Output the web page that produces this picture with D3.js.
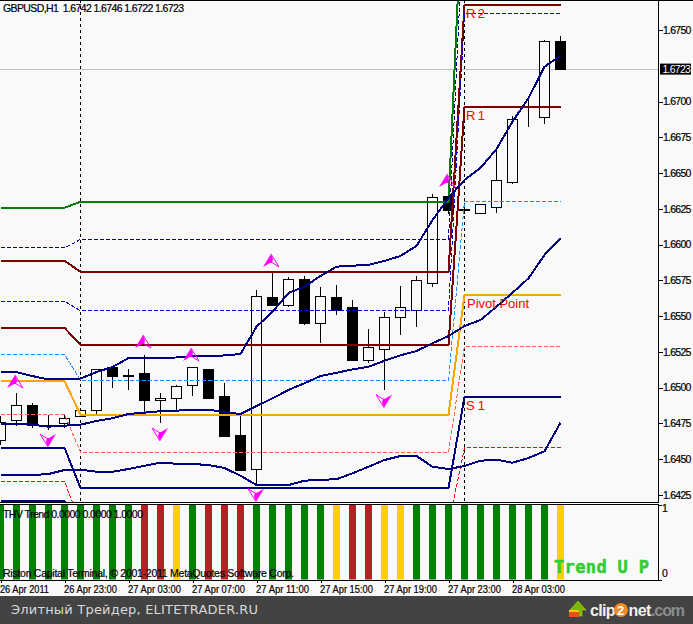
<!DOCTYPE html>
<html><head><meta charset="utf-8">
<script src="https://cdnjs.cloudflare.com/ajax/libs/d3/7.8.5/d3.min.js"></script>
<style>html,body{margin:0;padding:0;background:#f9f9f9}svg{display:block}</style>
</head><body><svg id="c" xmlns="http://www.w3.org/2000/svg" width="693" height="624"></svg>
<script>
const title="GBPUSD,H1  1.6742 1.6746 1.6722 1.6723";
const subTitle="THV Trend 0.0000 0.0000 1.0000";
const copyright="Riston Capital Terminal, © 2001-2011 MetaQuotes Software Corp.";
const opens =[1.6463,1.6477,1.6488,1.6473,1.6475,1.6480,1.6484,1.6514,1.6508,1.6510,1.6491,1.6493,1.6502,1.6513,1.6494,1.6467,1.6443,1.6563,1.6558,1.6576,1.6545,1.6563,1.6556,1.6519,1.6527,1.6549,1.6554,1.6573,1.6634,1.6625,1.6622,1.6626,1.6644,1.6688,1.6689,1.6742];
const highs =[1.6480,1.6496,1.6489,1.6481,1.6481,1.6484,1.6513,1.6514,1.6513,1.6523,1.6496,1.6502,1.6514,1.6513,1.6503,1.6480,1.6568,1.6581,1.6577,1.6578,1.6570,1.6572,1.6561,1.6541,1.6553,1.6571,1.6578,1.6635,1.6636,1.6629,1.6628,1.6668,1.6690,1.6701,1.6743,1.6746];
const lows  =[1.6460,1.6473,1.6472,1.6470,1.6472,1.6480,1.6480,1.6500,1.6498,1.6482,1.6475,1.6484,1.6494,1.6493,1.6466,1.6442,1.6432,1.6558,1.6556,1.6544,1.6531,1.6551,1.6519,1.6517,1.6498,1.6537,1.6542,1.6570,1.6621,1.6621,1.6621,1.6622,1.6642,1.6682,1.6684,1.6722];
const closes=[1.6476,1.6488,1.6474,1.6474,1.6479,1.6484,1.6513,1.6508,1.6509,1.6491,1.6493,1.6501,1.6514,1.6493,1.6466,1.6442,1.6564,1.6558,1.6576,1.6545,1.6564,1.6554,1.6519,1.6528,1.6549,1.6556,1.6575,1.6633,1.6624,1.6624,1.6628,1.6645,1.6688,1.6688,1.6742,1.6723];
const bandUpper=[1.65108,1.65108,1.6508,1.65056,1.65056,1.65063,1.65108,1.65143,1.65206,1.65206,1.65206,1.6521,1.6522,1.6522,1.65224,1.65234,1.65425,1.6553,1.65661,1.65705,1.6578,1.65845,1.65852,1.65857,1.65885,1.6592,1.6599,1.66171,1.66325,1.66451,1.66535,1.66668,1.66859,1.67024,1.67243,1.6732];
const bandMiddle=[1.64747,1.64747,1.6474,1.64726,1.64733,1.6474,1.64766,1.64785,1.64815,1.64824,1.64834,1.64838,1.64845,1.64845,1.64827,1.64815,1.64871,1.64924,1.64983,1.6503,1.6508,1.65103,1.65127,1.65145,1.65187,1.65225,1.65255,1.65309,1.6536,1.6543,1.65472,1.65565,1.65663,1.65764,1.65927,1.66043];
const bandLower=[1.64388,1.64388,1.64388,1.64395,1.64423,1.64425,1.64411,1.64411,1.6443,1.64453,1.64474,1.64467,1.64465,1.64458,1.64437,1.64383,1.64318,1.64318,1.64318,1.64348,1.64355,1.64358,1.644,1.64446,1.64493,1.64521,1.64521,1.64446,1.6443,1.64451,1.64488,1.64495,1.64474,1.64507,1.64554,1.64754];
// pivot levels for the three trading days: [day 1, day 2, day 3]
const pivotBars=[[0,4],[5,28],[29,35]];
const levelR3=[1.66257,1.66299,1.68759];
const levelMidR3=[1.65976,1.66036,1.6841];
const levelR2=[1.65887,1.65808,1.67675];
const levelMidR2=[1.65603,1.65537,1.67617];
const levelR1=[1.65418,1.65297,1.66964];
const levelMidR1=[1.65232,1.6505,1.66304];
const levelPivot=[1.65045,1.6481,1.65647];
const levelMidS1=[1.64813,1.64547,1.6529];
const levelS1=[1.64579,1.64297,1.64934];
const levelMidS2=[1.64344,1.64045,1.64577];
const levelS2=[1.64206,1.63794,1.6405];
const upArrowBars=[1,9,12,17,28];
const upArrowPrices=[1.65087,1.65367,1.65276,1.65934,1.66493];
const downArrowBars=[3,10,24,16];
const downArrowPrices=[1.64584,1.64626,1.64859,1.64201];
const trendStates=["g","g","g","g","g","g","g","g","g","r","r","y","g","r","r","r","g","g","g","g","g","y","r","r","y","y","g","g","g","g","g","g","g","g","g","y"];
const priceTicks=[1.675,1.67,1.6675,1.665,1.6625,1.66,1.6575,1.655,1.6525,1.65,1.6475,1.645,1.6425];
const lastPrice=1.6723;
const timeTickBars=[0,4,8,12,16,20,24,28,32];
const timeLabels=["26 Apr 2011","26 Apr 23:00","27 Apr 03:00","27 Apr 07:00","27 Apr 11:00","27 Apr 15:00","27 Apr 19:00","27 Apr 23:00","28 Apr 03:00"];
const daySeparators=[5,29];
const trendColors={g:"#008000",r:"#b22222",y:"#ffd000"};

const svg=d3.select("#c");
const UI="'Liberation Sans',Arial,sans-serif";
const W=658,plotB=502,subT=505,subB=579.5;
const x=d3.scaleLinear().domain([0,35]).range([0.5,560.5]);
const y=d3.scaleLinear().domain([1.6425,1.675]).range([494.75,30]);
const ySub=d3.scaleLinear().domain([0,1]).range([subB,subT]);

svg.append("rect").attr("width",693).attr("height",624).attr("fill","#f9f9f9");
const defs=svg.append("defs");
defs.append("clipPath").attr("id","main").append("rect").attr("x",0).attr("y",1).attr("width",W).attr("height",plotB-1);

const plot=svg.append("g").attr("clip-path","url(#main)");
plot.append("line").attr("x1",0).attr("x2",W).attr("y1",Math.round(y(lastPrice))+0.5).attr("y2",Math.round(y(lastPrice))+0.5).attr("stroke","#c0c0c0");
plot.selectAll(".sep").data(daySeparators).join("line").attr("x1",d=>Math.floor(x(d))+.5).attr("x2",d=>Math.floor(x(d))+.5)
  .attr("y1",0).attr("y2",plotB).attr("stroke","#000").attr("stroke-dasharray","3,3").attr("shape-rendering","crispEdges");

const idx=d3.range(opens.length);
const cg=plot.append("g").attr("shape-rendering","crispEdges");
cg.selectAll(".wick").data(idx).join("line")
  .attr("x1",i=>Math.floor(x(i))+.5).attr("x2",i=>Math.floor(x(i))+.5)
  .attr("y1",i=>y(highs[i])).attr("y2",i=>y(lows[i])).attr("stroke","#000").attr("stroke-width",1);
cg.selectAll(".body").data(idx).join("rect")
  .attr("x",i=>Math.floor(x(i))-5+.5).attr("width",10)
  .attr("y",i=>Math.round(y(Math.max(opens[i],closes[i])))+.5)
  .attr("height",i=>Math.max(0,Math.round(y(Math.min(opens[i],closes[i])))-Math.round(y(Math.max(opens[i],closes[i])))))
  .attr("fill",i=>closes[i]>=opens[i]?"#f9f9f9":"#000").attr("stroke","#000");

const pivotLine=lv=>{const pts=[];lv.forEach((v,k)=>{pivotBars[k].forEach(b=>pts.push([x(b),y(v)]));});return d3.line()(pts);};
const pivots=[
 [levelR3,"#008000",2,null],[levelMidR3,"#000080",1,"4,2"],[levelR2,"#7b0000",2,null],[levelMidR2,"#0000e0",1,"4,2"],
 [levelR1,"#7b0000",2,null],[levelMidR1,"#1e90ff",1,"4,2"],[levelPivot,"#ffa500",2,null],[levelMidS1,"#ff6347",1,"4,2"],
 [levelS1,"#000080",2,null],[levelMidS2,"#ff0000",1,"4,2"],[levelS2,"#000080",2,null]];
plot.selectAll(".piv").data(pivots).join("path").attr("d",d=>pivotLine(d[0])).attr("fill","none")
 .attr("stroke",d=>d[1]).attr("stroke-width",d=>d[2]).attr("stroke-dasharray",d=>d[3]).attr("shape-rendering","crispEdges");
const lineGen=d3.line().x((d,i)=>x(i)).y(d=>y(d));
[bandUpper,bandMiddle,bandLower].forEach(s=>plot.append("path").attr("d",lineGen(s)).attr("fill","none").attr("stroke","#000080").attr("stroke-width",2).attr("shape-rendering","crispEdges"));

const arrowFill="M0,0 L-8,13 L-1,9 L1,9 L2,5 Z";
const arrowWing="M0,0 L8,13 L0,8";
const drawArrow=(b,p,dx,rot)=>{
  const g=plot.append("g").attr("transform",`translate(${x(b)+dx},${y(p)}) rotate(${rot})`);
  g.append("path").attr("d",arrowFill).attr("fill","#ff00ff");
  g.append("path").attr("d",arrowWing).attr("fill","none").attr("stroke","#ff00ff").attr("stroke-width",1);
};
upArrowBars.forEach((b,k)=>drawArrow(b,upArrowPrices[k],-1.5,0));
downArrowBars.forEach((b,k)=>drawArrow(b,downArrowPrices[k],-.5,180));

const lvl=[["R 2",466,18],["R 1",466,120],["Pivot Point",467,308],["S 1",466,410]];
svg.selectAll(".lvl").data(lvl).join("text").text(d=>d[0]).attr("x",d=>d[1]).attr("y",d=>d[2]).attr("fill","#ff0000")
  .attr("font-family",UI).attr("font-size",13).attr("textLength",(d,i)=>[19,19,62,19][i]).attr("lengthAdjust","spacing");

svg.selectAll(".bar").data(trendStates).join("rect").attr("x",(d,i)=>Math.floor(x(i))-3).attr("width",7)
  .attr("y",ySub(1)).attr("height",ySub(0)-ySub(1)).attr("fill",d=>trendColors[d]);

const frame=svg.append("g").attr("stroke","#000").attr("shape-rendering","crispEdges");
frame.append("line").attr("x1",0).attr("x2",693).attr("y1",.5).attr("y2",.5);
frame.append("line").attr("x1",0).attr("x2",658).attr("y1",502.5).attr("y2",502.5);
frame.append("line").attr("x1",0).attr("x2",658).attr("y1",504.5).attr("y2",504.5);
frame.append("line").attr("x1",0).attr("x2",658).attr("y1",580.5).attr("y2",580.5);
frame.append("line").attr("x1",658.5).attr("x2",658.5).attr("y1",0).attr("y2",503);
frame.append("line").attr("x1",658.5).attr("x2",658.5).attr("y1",504).attr("y2",581);

const axisText=sel=>sel.attr("font-family",UI).attr("font-size",10.5).attr("fill","#000").attr("stroke","#000").attr("stroke-width",.2);
const yAxis=d3.axisRight(y).tickValues(priceTicks).tickFormat(d3.format(".4f")).tickSize(4).tickPadding(0);
const ga=svg.append("g").attr("transform","translate(659,0)").call(yAxis);
ga.select(".domain").remove();
ga.selectAll("line").attr("shape-rendering","crispEdges");
ga.selectAll("text").call(axisText).attr("letter-spacing","-0.75");
ga.attr("font-family",null).attr("font-size",null);

const ySubAxis=d3.axisRight(ySub).tickValues([0,1]).tickFormat(d3.format("d")).tickSize(3).tickPadding(2);
const gs=svg.append("g").attr("transform","translate(659,0)").call(ySubAxis);
gs.select(".domain").remove();
gs.selectAll("line").attr("shape-rendering","crispEdges");
gs.selectAll("text").call(axisText).attr("dy",(d)=>d===1?"0.6em":"-0.25em").attr("x",3);
gs.attr("font-family",null).attr("font-size",null);

const xAxis=d3.axisBottom(x).tickValues(timeTickBars).tickFormat((d,i)=>timeLabels[i]).tickSize(3).tickPadding(3);
const gx=svg.append("g").attr("transform","translate(0,580)").call(xAxis);
gx.select(".domain").remove();
gx.selectAll("line").attr("shape-rendering","crispEdges");
gx.selectAll("text").call(axisText).attr("text-anchor","start").attr("dx",-1).attr("textLength",(d,i)=>i==0?49:53).attr("lengthAdjust","spacingAndGlyphs");
gx.attr("font-family",null).attr("font-size",null);

svg.append("rect").attr("x",660).attr("y",y(lastPrice)-5).attr("width",31).attr("height",11).attr("fill","#000");
svg.append("text").text(d3.format(".4f")(lastPrice)).attr("x",662.5).attr("y",y(lastPrice)+4.5).attr("fill","#fff").attr("font-family",UI).attr("font-size",10.5).attr("letter-spacing","-0.75");

const T=(s,xx,yy,len)=>svg.append("text").text(s).attr("x",xx).attr("y",yy).attr("font-family",UI).attr("font-size",10.5).attr("fill","#000").attr("stroke","#000").attr("stroke-width",.2).attr("xml:space","preserve").attr("textLength",len).attr("lengthAdjust","spacing");
T(title,3,12,181);
T(subTitle,3,518,140);
T(copyright,3,577,291);

svg.append("text").text("Trend U P").attr("x",554).attr("y",573).attr("font-family","'DejaVu Sans Mono','Liberation Mono',monospace").attr("font-weight","bold").attr("font-size",17).attr("fill","#32cd32").attr("stroke","#32cd32").attr("stroke-width",.5).attr("textLength",95).attr("lengthAdjust","spacing");

svg.append("rect").attr("x",0).attr("y",596).attr("width",693).attr("height",28).attr("fill","#434343");
svg.append("text").text("Элитный Трейдер, ELITETRADER.RU").attr("x",11).attr("y",614).attr("font-family","'DejaVu Sans',sans-serif").attr("font-size",13).attr("fill","#d8d8d8").attr("textLength",247).attr("lengthAdjust","spacing");
svg.append("path").attr("d","M578,601 L586,610 L582,610 L582,616 L574,616 L574,610 L570,610 Z").attr("fill","#7ab800").attr("stroke","#c8d820").attr("stroke-width",.5);
svg.append("rect").attr("x",569).attr("y",612).attr("width",10).attr("height",5).attr("fill","#e8501a");
svg.append("rect").attr("x",569).attr("y",610).attr("width",10).attr("height",2).attr("fill","#f5c518");
const logoPart=(s,xx,ls,fill)=>svg.append("text").text(s).attr("x",xx).attr("y",615.5).attr("font-family",UI).attr("font-weight","bold").attr("font-size",16).attr("fill",fill).attr("letter-spacing",ls);
logoPart("clip",590,-0.7,"#f0f0f0");
svg.append("circle").attr("cx",621).attr("cy",610).attr("r",7).attr("fill","#f28c1e");
logoPart("2",617,0,"#ffffff").attr("font-size",13).attr("y",614.5);
logoPart("net",628.5,-0.6,"#f0f0f0");
logoPart(".com",651,-1.1,"#8c8c8c");
</script></body></html>
